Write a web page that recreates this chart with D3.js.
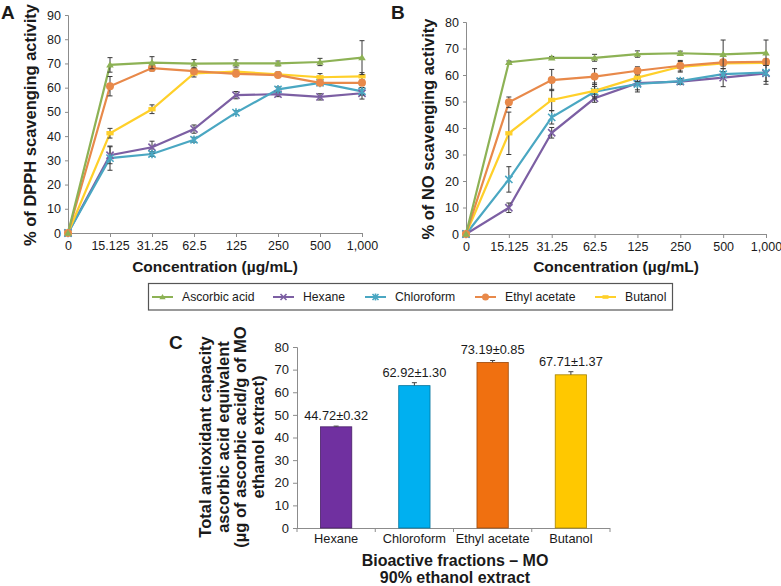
<!DOCTYPE html>
<html><head><meta charset="utf-8">
<script src="https://cdn.jsdelivr.net/npm/d3@7"></script>
<style>body{margin:0;background:#fff} text{font-family:"Liberation Sans",Arial,sans-serif;fill:#1a1a1a}</style>
</head><body><svg id="c" width="781" height="586"></svg>
<script>
// ---------- data ----------
const concentrations = ["0","15.125","31.25","62.5","125","250","500","1,000"];
const seriesNames = ["Ascorbic acid","Hexane","Chloroform","Ethyl acetate","Butanol"];
const seriesColors = ["#8DB255","#7C5FA3","#4AA7C2","#E8894A","#FFD02A"];
const seriesMarkers = ["triangle","x","asterisk","circle","cross"];

// Panel A: DPPH scavenging (%)
const dpphAscorbic   = [0,69.4,70.3,69.9,70.0,70.0,70.6,72.4];
const dpphHexane     = [0,32.1,35.4,42.9,56.9,57.3,56.2,57.7];
const dpphChloroform = [0,30.9,32.6,38.5,49.7,59.3,62.0,58.5];
const dpphEthyl      = [0,60.6,68.1,66.8,65.7,65.2,62.0,62.0];
const dpphButanol    = [0,41.2,51.1,65.9,66.6,65.5,64.3,64.7];
const dpphAscorbicErr   = [0,3,2.5,1.7,1.5,1,1.5,7];
const dpphHexaneErr     = [0,3.5,2.5,1.7,1.5,1,1.3,2.4];
const dpphChloroformErr = [0,5,1,1,0.8,1,1,1.5];
const dpphEthylErr      = [0,4,1.2,1,1,1,1,1];
const dpphButanolErr    = [0,2,1.8,1.5,1,1,1.5,1.5];

// Panel B: NO scavenging (%)
const noAscorbic   = [0,64.8,66.5,66.5,67.9,68.2,67.8,68.4];
const noHexane     = [0,9.9,38.2,51.2,56.9,57.5,59.0,60.6];
const noChloroform = [0,20.6,44.0,53.7,56.6,57.7,60.3,60.9];
const noEthyl      = [0,49.7,58.1,59.4,61.6,63.5,64.8,65.0];
const noButanol    = [0,38.0,50.6,54.0,59.0,63.1,64.4,64.6];
const noAscorbicErr   = [0,0.5,0.5,1.3,1.2,0.8,5.4,4.8];
const noHexaneErr     = [0,1.8,2,1.5,2.5,1,3.4,3];
const noChloroformErr = [0,4.8,2.5,2,3,1,1,4.4];
const noEthylErr      = [0,2,4,3,1.5,2,1,1];
const noButanolErr    = [0,8,4,3,1.5,2,1,1];

const dpphTicks = [0,10,20,30,40,50,60,70,80,90];
const noTicks = [0,10,20,30,40,50,60,70,80];

// Panel C: total antioxidant capacity
const fractions = ["Hexane","Chloroform","Ethyl acetate","Butanol"];
const tacValues = [44.72,62.92,73.19,67.71];
const tacErrors = [0.32,1.30,0.85,1.37];
const tacColors = ["#7030A0","#00B0F0","#F07010","#FFC800"];
const tacTicks = [0,10,20,30,40,50,60,70,80];

// ---------- drawing ----------
const svg = d3.select("#c");
const axisColor = "#8c8c8c";
const FONT = '"Liberation Sans",Arial,sans-serif';

function markerPath(type, s) {
  if (type === "triangle") return `M0,${-s}L${s*1.05},${s*0.75}L${-s*1.05},${s*0.75}Z`;
  if (type === "x") return `M${-s},${-s}L${s},${s}M${-s},${s}L${s},${-s}`;
  if (type === "asterisk") return `M${-s},${-s}L${s},${s}M${-s},${s}L${s},${-s}M0,${-s*1.2}L0,${s*1.2}`;
  return null;
}
function drawMarker(g, type, color, x, y, s) {
  if (type === "circle") {
    g.append("circle").attr("cx", x).attr("cy", y).attr("r", s).attr("fill", color);
  } else if (type === "triangle") {
    g.append("path").attr("d", markerPath(type, s)).attr("transform", `translate(${x},${y})`).attr("fill", color);
  } else if (type === "cross") {
    g.append("rect").attr("x", x - s).attr("y", y - s*0.6).attr("width", 2*s).attr("height", 1.2*s).attr("fill", color);
  } else {
    g.append("path").attr("d", markerPath(type, s)).attr("transform", `translate(${x},${y})`)
      .attr("stroke", color).attr("stroke-width", 1.6).attr("fill", "none");
  }
}

function linePanel(opt) {
  const x = d3.scalePoint().domain(concentrations).range([opt.x0, opt.x1]).padding(0);
  const y = d3.scaleLinear().domain([0, opt.ymax]).range([opt.y0, opt.y1]);
  const g = svg.append("g");

  const ya = g.append("g").attr("transform", `translate(${opt.x0},0)`)
    .call(d3.axisLeft(y).tickValues(opt.ticks).tickSize(3).tickPadding(4));
  const xa = g.append("g").attr("transform", `translate(0,${opt.y0})`)
    .call(d3.axisBottom(x).tickSize(4).tickPadding(4));
  [ya, xa].forEach(a => {
    a.select(".domain").attr("stroke", axisColor);
    a.selectAll(".tick line").attr("stroke", axisColor);
    a.selectAll(".tick text").attr("font-size", 12.5).attr("fill", "#222").attr("font-family", FONT);
  });

  const order = [1, 2, 4, 3, 0];
  order.forEach(i => {
    const vals = opt.values[i];
    const pts = concentrations.map((c, k) => [x(c), y(vals[k])]);
    g.append("path").attr("d", d3.line()(pts)).attr("fill", "none")
      .attr("stroke", seriesColors[i]).attr("stroke-width", 2.2);
  });
  order.forEach(i => {
    const vals = opt.values[i], errs = opt.errors[i];
    concentrations.forEach((c, k) => {
      if (errs[k] > 0) {
        const cx = x(c), yt = y(vals[k] + errs[k]), yb = y(vals[k] - errs[k]);
        g.append("path").attr("d", `M${cx},${yt}L${cx},${yb}M${cx-2.5},${yt}L${cx+2.5},${yt}M${cx-2.5},${yb}L${cx+2.5},${yb}`)
          .attr("stroke", "#3a3a3a").attr("stroke-width", 1).attr("fill", "none");
      }
      drawMarker(g, seriesMarkers[i], seriesColors[i], x(c), y(vals[k]), seriesMarkers[i] === "circle" ? 4 : 3.6);
    });
  });

  svg.append("text").attr("x", opt.labelX).attr("y", 19).attr("font-size", 19).attr("font-weight", "bold").text(opt.label);
  svg.append("text").attr("transform", `translate(${opt.titleX},${(opt.y0 + opt.y1) / 2 + 1}) rotate(-90)`)
    .attr("text-anchor", "middle").attr("font-size", 16.5).attr("font-weight", "bold").text(opt.ytitle);
  svg.append("text").attr("x", (opt.x0 + opt.x1) / 2).attr("y", 272).attr("text-anchor", "middle")
    .attr("font-size", 15.5).attr("font-weight", "bold").text("Concentration (\u00b5g/mL)");
}

linePanel({
  x0: 68, x1: 362, y0: 233, y1: 15, ymax: 90, ticks: dpphTicks,
  values: [dpphAscorbic, dpphHexane, dpphChloroform, dpphEthyl, dpphButanol],
  errors: [dpphAscorbicErr, dpphHexaneErr, dpphChloroformErr, dpphEthylErr, dpphButanolErr],
  label: "A", labelX: 1, titleX: 36, ytitle: "% of DPPH scavenging activity"
});
linePanel({
  x0: 466, x1: 766, y0: 234, y1: 22, ymax: 80, ticks: noTicks,
  values: [noAscorbic, noHexane, noChloroform, noEthyl, noButanol],
  errors: [noAscorbicErr, noHexaneErr, noChloroformErr, noEthylErr, noButanolErr],
  label: "B", labelX: 391, titleX: 434, ytitle: "% of NO scavenging activity"
});

// legend
const lg = svg.append("g");
lg.append("rect").attr("x", 148.5).attr("y", 283.5).attr("width", 524).attr("height", 26.5)
  .attr("fill", "none").attr("stroke", "#555").attr("stroke-width", 1.2);
const legendX = [152, 273, 365, 475, 595];
seriesNames.forEach((n, i) => {
  const lx = legendX[i];
  lg.append("line").attr("x1", lx).attr("x2", lx + 21).attr("y1", 297).attr("y2", 297)
    .attr("stroke", seriesColors[i]).attr("stroke-width", 2);
  drawMarker(lg, seriesMarkers[i], seriesColors[i], lx + 10.5, 297, seriesMarkers[i] === "circle" ? 3.5 : 3);
  lg.append("text").attr("x", lx + 30).attr("y", 301).attr("font-size", 12.2).text(n);
});

// Panel C
const xc = d3.scaleBand().domain(fractions).range([297, 610]).paddingInner(0.6).paddingOuter(0.3);
const yc = d3.scaleLinear().domain([0, 80]).range([528, 347]);
const gc = svg.append("g");
const yca = gc.append("g").attr("transform", "translate(297,0)")
  .call(d3.axisLeft(yc).tickValues(tacTicks).tickSize(4).tickPadding(4));
yca.select(".domain").attr("stroke", axisColor);
yca.selectAll(".tick line").attr("stroke", axisColor);
yca.selectAll(".tick text").attr("font-size", 13).attr("fill", "#222").attr("font-family", FONT);
gc.append("line").attr("x1", 297).attr("x2", 610).attr("y1", 528.5).attr("y2", 528.5).attr("stroke", axisColor);
[0, 1, 2, 3, 4].forEach(k => {
  const tx = 297 + k * xc.step();
  gc.append("line").attr("x1", tx).attr("x2", tx).attr("y1", 528).attr("y2", 532).attr("stroke", axisColor);
});
fractions.forEach((f, i) => {
  const bx = xc(f), bw = xc.bandwidth(), cx = bx + bw / 2;
  gc.append("rect").attr("x", bx).attr("y", yc(tacValues[i])).attr("width", bw)
    .attr("height", yc(0) - yc(tacValues[i])).attr("fill", tacColors[i])
    .attr("stroke", d3.color(tacColors[i]).darker(1.2)).attr("stroke-width", 0.8);
  const yt = yc(tacValues[i] + tacErrors[i]);
  gc.append("path").attr("d", `M${cx},${yc(tacValues[i])}L${cx},${yt}M${cx-2.5},${yt}L${cx+2.5},${yt}`)
    .attr("stroke", "#444").attr("stroke-width", 1);
  gc.append("text").attr("x", cx).attr("y", yt - 6).attr("text-anchor", "middle").attr("font-size", 12.8)
    .text(tacValues[i].toFixed(2) + "\u00b1" + tacErrors[i].toFixed(2));
  gc.append("text").attr("x", cx).attr("y", 543).attr("text-anchor", "middle").attr("font-size", 12.8).text(f);
});
svg.append("text").attr("x", 169).attr("y", 349).attr("font-size", 19).attr("font-weight", "bold").text("C");
const ctitle = ["Total antioxidant capacity", "ascorbic acid equivalent", "(\u00b5g of ascorbic acid/g of MO", "ethanol extract)"];
ctitle.forEach((t, k) => {
  svg.append("text").attr("transform", `translate(${211 + k * 17.5},437) rotate(-90)`)
    .attr("text-anchor", "middle").attr("font-size", 16.5).attr("font-weight", "bold").text(t);
});
svg.append("text").attr("x", 455).attr("y", 566).attr("text-anchor", "middle").attr("font-size", 16)
  .attr("font-weight", "bold").text("Bioactive fractions \u2013 MO");
svg.append("text").attr("x", 455).attr("y", 583).attr("text-anchor", "middle").attr("font-size", 16)
  .attr("font-weight", "bold").text("90% ethanol extract");
</script></body></html>
